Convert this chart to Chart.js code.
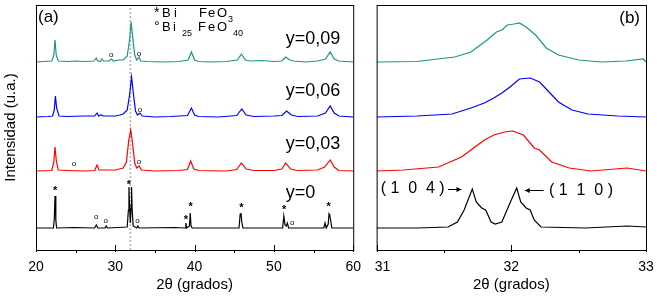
<!DOCTYPE html>
<html>
<head>
    <title>XRD BiFeO3</title>
    <script src="https://cdn.jsdelivr.net/npm/chart.js"></script>
    <style>
        body { margin: 0; background: #fff; }
        .panel { position: absolute; top: 0; height: 304px; }
        #wrapA { left: 0; width: 362px; }
        #wrapB { left: 362px; width: 295px; }
    </style>
</head>
<body>
    <div class="panel" id="wrapA"><canvas id="chartA" width="362" height="304"></canvas></div>
    <div class="panel" id="wrapB"><canvas id="chartB" width="295" height="304"></canvas></div>

    <script>
        // panel (a): full patterns, offset intensities (arbitrary units)
        const tealA = [[20,188],[21,188.5],[22.0,189],[22.25,195],[22.4,210],[22.55,195],[22.8,189],[24,188.5],[25,189],[26,188.5],[27.3,189],[27.6,192],[27.8,189],[28.1,188.5],[28.3,191],[28.5,189],[29.2,189],[29.5,191],[29.8,189],[30.4,190],[31.0,190],[31.5,194],[31.8,210],[32.0,228],[32.2,212],[32.45,195],[32.7,190],[33.0,193],[33.2,189],[34,188.5],[36,188],[38,188.5],[39.2,190],[39.6,198],[40.0,190],[40.5,188.5],[42,188],[44,188.5],[45.4,190],[45.9,196],[46.4,190],[47,189],[48.5,189.5],[50,188.5],[51.0,189],[51.5,193],[52.0,190],[52.5,189],[54,188],[55.5,189],[56.5,191],[57.1,198],[57.6,191],[58.2,189],[60,188]];
        const blueA = [[20,133],[21.5,133.5],[22.1,134],[22.3,140],[22.45,154],[22.6,142],[22.9,134],[24,133.5],[26,134],[27.4,134],[27.7,137],[27.9,134],[28.2,135],[28.5,134],[30,134],[30.6,135],[31.0,136],[31.5,140],[31.8,155],[32.05,173],[32.3,155],[32.55,139],[32.8,135],[33.1,137],[33.4,134],[35,133],[37,133.5],[39.1,134.5],[39.6,142],[40.0,135],[40.5,133.5],[43,133],[45.3,134.5],[45.95,141],[46.5,135],[47.5,133.5],[50,134],[51.0,134.5],[51.6,139],[52.2,135],[53,133.5],[55.5,134],[56.5,137],[57.1,144],[57.6,137],[58.2,134],[60,133]];
        const redA = [[20,79],[22.0,79.5],[22.25,88],[22.4,103],[22.55,90],[22.8,80],[24,79.5],[26,79],[27.4,79.5],[27.7,85],[27.95,80],[29,80],[30,80],[30.5,81],[31.0,82],[31.4,88],[31.7,110],[31.95,120],[32.2,105],[32.45,87],[32.7,82],[33.0,84],[33.3,80],[35,79],[38,79.5],[39.1,80.5],[39.5,89],[39.9,81],[40.5,79.5],[44,79],[45.3,80.5],[45.9,87],[46.5,81],[47.5,79.5],[50,79.5],[51.0,81],[51.5,87],[52.1,81],[53,79.5],[55.5,80],[56.4,83],[57.1,90],[57.6,83],[58.2,79.5],[60,79]];
        const blackA = [[20,22],[22.2,22],[22.3,30],[22.4,54],[22.5,30],[22.6,22],[24.8,22.5],[27.4,22],[27.6,25],[27.8,22],[28.7,22],[28.85,24],[29.0,22],[30.3,22.5],[31.5,23],[31.65,40],[31.72,63],[31.8,42],[31.9,27],[32.0,45],[32.05,63],[32.12,42],[32.25,24],[32.7,22],[32.85,24],[33.0,22],[37.5,22.5],[38.8,22],[38.9,27],[39.0,22],[39.35,24],[39.45,37],[39.55,24],[39.7,22],[45.6,22],[45.75,36],[45.85,37],[45.95,28],[46.1,22],[51.1,22],[51.25,34],[51.4,25],[51.55,24],[51.7,27],[51.85,22],[56.3,22],[56.45,27],[56.6,22],[56.85,26],[56.95,36],[57.05,34],[57.15,30],[57.3,22],[60,22]];
        const refLine = [[31.9,0],[31.9,245]];

        // panel (b): zoom on the (104)/(110) doublet
        const tealB = [[31.0,188],[31.3,188.5],[31.58,193],[31.7,198],[31.82,210],[31.89,218],[31.93,220],[31.97,225],[32.02,226],[32.06,227],[32.11,223],[32.18,215],[32.26,202],[32.35,195],[32.5,190],[32.67,188],[32.85,189],[32.98,191],[33.0,188]];
        const blueB = [[31.0,133],[31.3,134],[31.56,136],[31.7,142],[31.8,147],[31.87,152],[31.93,157],[31.99,163],[32.06,171],[32.14,172],[32.21,168],[32.28,158],[32.35,148],[32.45,140],[32.57,136],[32.79,134],[33.0,133]];
        const redB = [[31.0,79],[31.2,80],[31.46,83],[31.63,93],[31.72,102],[31.8,110],[31.87,115],[31.95,118],[32.01,119],[32.09,115],[32.17,102],[32.21,100],[32.3,88],[32.43,82],[32.59,79],[32.86,82],[33.0,79]];
        const blackB = [[31.0,22],[31.3,22],[31.53,23],[31.6,28],[31.65,40],[31.71,61],[31.74,48],[31.78,42],[31.81,40],[31.85,28],[31.88,26],[31.93,28],[31.99,47],[32.04,62],[32.07,48],[32.11,42],[32.14,40],[32.17,30],[32.22,23],[32.55,22],[32.86,24],[33.0,23]];

        // phase markers: [2theta, height]
        const starsA = [[22.4,62],[31.7,68],[38.9,33],[39.5,46],[45.9,45],[51.3,43],[56.9,46]];
        const circlesA = [[27.6,33],[28.8,29],[32.8,29],[52.3,27],[24.8,86],[33.0,88],[33.1,140],[29.5,195],[33.0,196]];
        // sample labels
        const sampleLabels = ['y=0,09', 'y=0,06', 'y=0,03', 'y=0'];
        const sampleLabelY = [206, 154, 101, 52];
        const sampleLabelX = 51.5;
        // reflections in panel (b)
        const reflLabels = ['( 1  0  4 )', '( 1  1  0 )'];
        // phase legend, spaced out glyph by glyph: [text, x offset, baseline, size]
        const legendBiFeO3 = [['*', 0, 17, 14], ['B', 8, 17, 13], ['i', 20, 17, 13], ['F', 45, 17, 13], ['e', 54, 17, 13], ['O', 63, 17, 13], ['3', 74, 22, 9]];
        const legendBi25 = [['°', 0, 31, 14], ['B', 8, 31, 13], ['i', 19, 31, 13], ['25', 28, 36, 9], ['F', 44, 31, 13], ['e', 54, 31, 13], ['O', 63, 31, 13], ['40', 79, 36, 9]];

        const minorA = [25, 35, 45, 55];
        const minorB = [31.5, 32.5];

        const teal = '#1b9683';
        const FONT = 'Arial, "Liberation Sans", sans-serif';
        Chart.defaults.font.family = FONT;
        Chart.defaults.color = '#000';

        const toXY = arr => arr.map(p => ({ x: p[0], y: p[1] }));

        function line(data, color, extra) {
            return Object.assign({
                data: toXY(data),
                borderColor: color,
                borderWidth: 1.2,
                pointRadius: 0,
                tension: 0,
                fill: false
            }, extra || {});
        }

        // frame + inward ticks, like the original plotting software
        const framePlugin = {
            id: 'frame',
            afterDraw(chart) {
                const ctx = chart.ctx;
                const a = chart.chartArea;
                const xs = chart.scales.x;
                ctx.save();
                ctx.strokeStyle = '#000';
                ctx.lineWidth = 1;
                ctx.strokeRect(a.left + 0.5, a.top + 0.5, a.right - a.left, a.bottom - a.top);
                ctx.beginPath();
                xs.ticks.forEach(t => {
                    const px = Math.round(xs.getPixelForValue(t.value)) + 0.5;
                    ctx.moveTo(px, a.bottom - 5);
                    ctx.lineTo(px, a.bottom + 2);
                });
                (chart.options.minorTicks || []).forEach(v => {
                    const px = Math.round(xs.getPixelForValue(v)) + 0.5;
                    ctx.moveTo(px, a.bottom);
                    ctx.lineTo(px, a.bottom + 3);
                });
                ctx.stroke();
                ctx.restore();
            }
        };

        const annotA = {
            id: 'annotA',
            afterDatasetsDraw(chart) {
                const ctx = chart.ctx;
                const xs = chart.scales.x, ys = chart.scales.y;
                ctx.save();
                ctx.fillStyle = '#000';
                ctx.textAlign = 'center';
                ctx.textBaseline = 'middle';
                ctx.font = 'bold 11px ' + FONT;
                starsA.forEach(s => ctx.fillText('*', xs.getPixelForValue(s[0]), ys.getPixelForValue(s[1]) + 3));
                ctx.font = '8px ' + FONT;
                circlesA.forEach(c => ctx.fillText('o', xs.getPixelForValue(c[0]), ys.getPixelForValue(c[1])));

                ctx.textAlign = 'left';
                ctx.textBaseline = 'alphabetic';
                ctx.font = '18px ' + FONT;
                sampleLabels.forEach((t, i) => ctx.fillText(t, xs.getPixelForValue(sampleLabelX), ys.getPixelForValue(sampleLabelY[i])));

                ctx.font = '17px ' + FONT;
                ctx.fillText('(a)', chart.chartArea.left + 2, chart.chartArea.top + 17);

                // phase legend
                const x0 = 154;
                legendBiFeO3.concat(legendBi25).forEach(g => {
                    ctx.font = g[3] + 'px ' + FONT;
                    ctx.fillText(g[0], x0 + g[1], g[2]);
                });
                ctx.restore();
            }
        };

        const annotB = {
            id: 'annotB',
            afterDatasetsDraw(chart) {
                const ctx = chart.ctx;
                const xs = chart.scales.x, ys = chart.scales.y;
                const a = chart.chartArea;
                ctx.save();
                ctx.fillStyle = '#000';
                ctx.strokeStyle = '#000';
                ctx.lineWidth = 1;
                ctx.font = '17px ' + FONT;
                ctx.textAlign = 'right';
                ctx.fillText('(b)', a.right - 6, a.top + 18);

                ctx.font = '16px ' + FONT;
                ctx.textAlign = 'left';
                ctx.textBaseline = 'middle';
                const yl = ys.getPixelForValue(61);
                ctx.fillText(reflLabels[0], xs.getPixelForValue(31.03), yl);
                ctx.fillText(reflLabels[1], xs.getPixelForValue(32.28), yl + 2);

                // arrows
                const arrow = (x0, x1, y) => {
                    const dir = Math.sign(x1 - x0);
                    ctx.beginPath();
                    ctx.moveTo(x0, y);
                    ctx.lineTo(x1, y);
                    ctx.stroke();
                    ctx.beginPath();
                    ctx.moveTo(x1, y);
                    ctx.lineTo(x1 - dir * 5, y - 2.5);
                    ctx.lineTo(x1 - dir * 5, y + 2.5);
                    ctx.closePath();
                    ctx.fill();
                };
                arrow(xs.getPixelForValue(31.53), xs.getPixelForValue(31.63), Math.round(yl) + 0.5);
                arrow(xs.getPixelForValue(32.24), xs.getPixelForValue(32.1), Math.round(yl) + 1.5);
                ctx.restore();
            }
        };

        const xTitle = { display: true, text: '2θ (grados)', font: { size: 15 }, padding: { top: 0, bottom: 10 } };

        new Chart(document.getElementById('chartA'), {
            type: 'line',
            data: {
                datasets: [
                    line(tealA, teal),
                    line(blueA, '#0000ff'),
                    line(redA, '#ff0000'),
                    line(blackA, '#000000'),
                    line(refLine, '#b4b4b4', { borderWidth: 1.6, borderDash: [2, 2], order: 10 })
                ]
            },
            options: {
                responsive: false,
                animation: false,
                minorTicks: minorA,
                layout: { padding: { top: 5, right: 5, left: 0, bottom: 0 } },
                plugins: { legend: { display: false }, tooltip: { enabled: false } },
                scales: {
                    x: {
                        type: 'linear',
                        min: 20,
                        max: 60,
                        grid: { display: false },
                        border: { display: false },
                        ticks: { stepSize: 10, autoSkip: false, padding: 1, font: { size: 14 } },
                        title: xTitle,
                        afterFit: axis => { axis.height = 54; }
                    },
                    y: {
                        min: 0,
                        max: 245,
                        grid: { display: false },
                        border: { display: false },
                        ticks: { display: false },
                        title: { display: true, text: 'Intensidad (u.a.)', font: { size: 15 }, padding: { top: 2, bottom: 0 } },
                        afterFit: axis => { axis.width = 36; }
                    }
                }
            },
            plugins: [framePlugin, annotA]
        });

        new Chart(document.getElementById('chartB'), {
            type: 'line',
            data: {
                datasets: [
                    line(tealB, teal),
                    line(blueB, '#0000ff'),
                    line(redB, '#ff0000'),
                    line(blackB, '#000000')
                ]
            },
            options: {
                responsive: false,
                animation: false,
                minorTicks: minorB,
                layout: { padding: { top: 5, right: 11, left: 8, bottom: 0 } },
                plugins: { legend: { display: false }, tooltip: { enabled: false } },
                scales: {
                    x: {
                        type: 'linear',
                        min: 31,
                        max: 33,
                        grid: { display: false },
                        border: { display: false },
                        ticks: {
                            stepSize: 1,
                            autoSkip: false,
                            padding: 1,
                            font: { size: 14 },
                            callback: v => (v === 31 ? '   31' : String(v))
                        },
                        title: xTitle,
                        afterFit: axis => { axis.height = 54; }
                    },
                    y: { display: false, min: 0, max: 245 }
                }
            },
            plugins: [framePlugin, annotB]
        });
    </script>
</body>
</html>
